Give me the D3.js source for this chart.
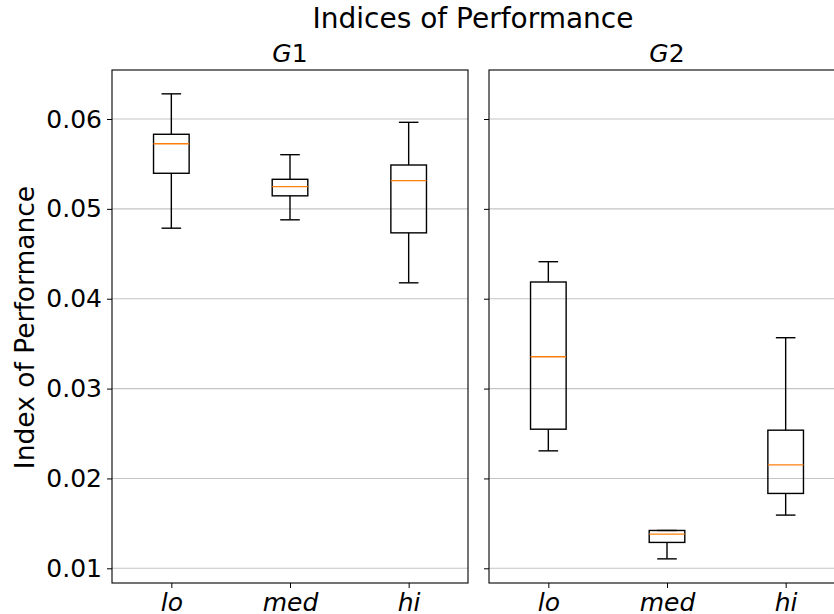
<!DOCTYPE html>
<html>
<head>
<meta charset="utf-8">
<script src="https://cdn.jsdelivr.net/npm/d3@7"></script>
<style>
  html, body { margin: 0; padding: 0; background: #fff; }
  svg { display: block; font-family: "DejaVu Sans", sans-serif; }
</style>
</head>
<body>
<svg id="chart" width="834" height="614"></svg>
<script>
// Categories and panels
const categories = ["lo", "med", "hi"];
const groups = ["1", "2"];

// Box statistics per category: [lower whisker, Q1, median, Q3, upper whisker]
const g1Stats = [
  [0.04785, 0.05396, 0.05725, 0.05830, 0.06280],
  [0.04878, 0.05145, 0.05247, 0.05329, 0.05603],
  [0.04177, 0.04733, 0.05314, 0.05488, 0.05963]
];
const g2Stats = [
  [0.02307, 0.02548, 0.03355, 0.04186, 0.04412],
  [0.01105, 0.01288, 0.01380, 0.01421, 0.01421],
  [0.01592, 0.01833, 0.02151, 0.02537, 0.03566]
];

// Shared y-axis
const yTicks = [0.01, 0.02, 0.03, 0.04, 0.05, 0.06];
const yLimits = [0.008364, 0.065453];

const svg = d3.select("#chart");
const plotTop = 70, plotBottom = 583, panelW = 356;
const panelLefts = [112, 489];
const statsByPanel = [g1Stats, g2Stats];

const y = d3.scaleLinear().domain(yLimits).range([plotBottom, plotTop]);

// Figure title
svg.append("text")
  .attr("x", 473).attr("y", 28)
  .attr("text-anchor", "middle")
  .attr("font-size", 28).attr("fill", "#000")
  .text("Indices of Performance");

// Y-axis label
svg.append("text")
  .attr("transform", `translate(34,${(plotTop + plotBottom) / 2 + 1}) rotate(-90)`)
  .attr("text-anchor", "middle")
  .attr("font-size", 26.5).attr("fill", "#000")
  .text("Index of Performance");

panelLefts.forEach((left, pi) => {
  const x = d3.scalePoint().domain(categories)
    .range([left, left + panelW]).padding(0.5);
  const step = x.step();
  const boxW = step * 0.3, capW = step * 0.165;
  const g = svg.append("g");

  // Horizontal gridlines
  g.selectAll("line.grid").data(yTicks).join("line")
    .attr("class", "grid")
    .attr("x1", left).attr("x2", left + panelW)
    .attr("y1", d => y(d)).attr("y2", d => y(d))
    .attr("stroke", "#c4c4c4").attr("stroke-width", 1.1);

  // Y axis: labels only on the first panel
  const yAxis = d3.axisLeft(y).tickValues(yTicks).tickSizeOuter(0)
    .tickSize(5).tickPadding(5)
    .tickFormat(pi === 0 ? d3.format(".2f") : () => "");
  const ya = g.append("g").attr("transform", `translate(${left},0)`).call(yAxis);
  ya.select(".domain").remove();
  ya.selectAll(".tick line").attr("stroke", "#000").attr("stroke-width", 1);
  ya.selectAll(".tick text").attr("font-size", 25).attr("fill", "#000")
    .attr("font-family", "DejaVu Sans");

  // X axis with italic category labels
  const xAxis = d3.axisBottom(x).tickSize(5).tickPadding(5).tickSizeOuter(0);
  const xa = g.append("g").attr("transform", `translate(0,${plotBottom})`).call(xAxis);
  xa.select(".domain").remove();
  xa.selectAll(".tick line").attr("stroke", "#000").attr("stroke-width", 1);
  xa.selectAll(".tick text").attr("font-size", 25).attr("fill", "#000")
    .attr("font-style", "italic").attr("font-family", "DejaVu Sans");

  // Boxes
  const stats = statsByPanel[pi];
  const bx = g.selectAll("g.box").data(categories.map((c, i) => ({ c, s: stats[i] })))
    .join("g").attr("class", "box");
  const line = (sel) => sel.attr("stroke", "#000").attr("stroke-width", 1.4).attr("fill", "none");

  bx.append("line").call(line)
    .attr("x1", d => x(d.c)).attr("x2", d => x(d.c))
    .attr("y1", d => y(d.s[0])).attr("y2", d => y(d.s[1]));
  bx.append("line").call(line)
    .attr("x1", d => x(d.c)).attr("x2", d => x(d.c))
    .attr("y1", d => y(d.s[3])).attr("y2", d => y(d.s[4]));
  bx.append("line").call(line)
    .attr("x1", d => x(d.c) - capW / 2).attr("x2", d => x(d.c) + capW / 2)
    .attr("y1", d => y(d.s[0])).attr("y2", d => y(d.s[0]));
  bx.append("line").call(line)
    .attr("x1", d => x(d.c) - capW / 2).attr("x2", d => x(d.c) + capW / 2)
    .attr("y1", d => y(d.s[4])).attr("y2", d => y(d.s[4]));
  bx.append("rect").call(line)
    .attr("x", d => x(d.c) - boxW / 2).attr("width", boxW)
    .attr("y", d => y(d.s[3])).attr("height", d => y(d.s[1]) - y(d.s[3]));
  bx.append("line")
    .attr("stroke", "#ff7f0e").attr("stroke-width", 1.4)
    .attr("x1", d => x(d.c) - boxW / 2).attr("x2", d => x(d.c) + boxW / 2)
    .attr("y1", d => y(d.s[2])).attr("y2", d => y(d.s[2]));

  // Frame
  g.append("rect")
    .attr("x", left).attr("y", plotTop).attr("width", panelW).attr("height", plotBottom - plotTop)
    .attr("fill", "none").attr("stroke", "#000").attr("stroke-width", 1.1);

  // Panel title: italic G with upright digit
  const t = g.append("text")
    .attr("x", left + panelW / 2).attr("y", 62)
    .attr("text-anchor", "middle").attr("font-size", 25).attr("fill", "#000");
  t.append("tspan").attr("font-style", "italic").text("G");
  t.append("tspan").text(groups[pi]);
});
</script>
</body>
</html>
